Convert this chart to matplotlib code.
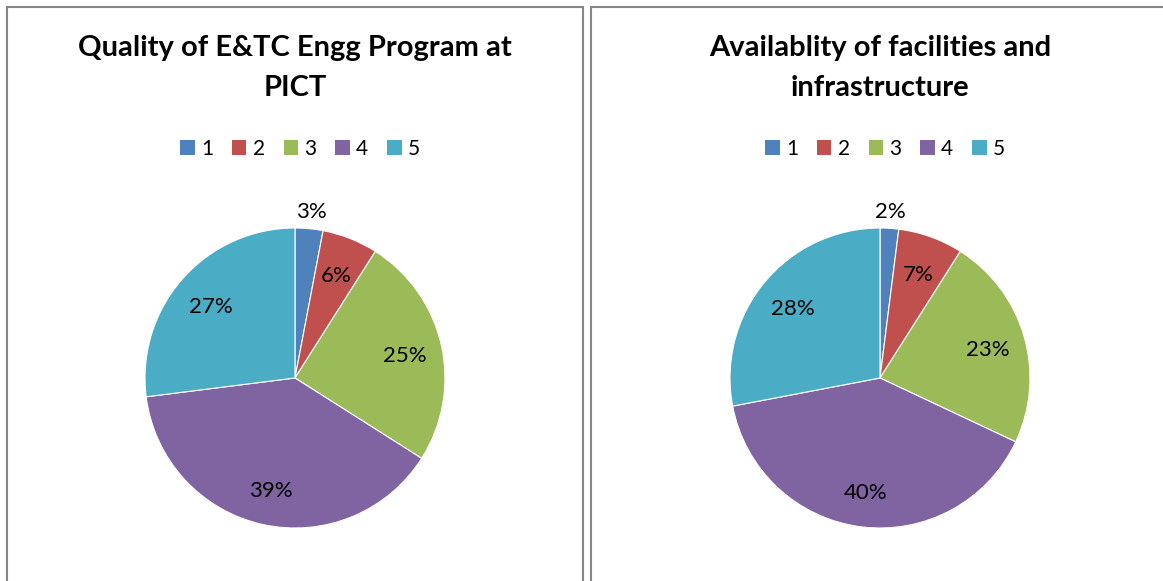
import numpy as np
import matplotlib
matplotlib.use("Agg")
import matplotlib.pyplot as plt
from matplotlib.patches import Rectangle, Patch

# data
categories = ["1", "2", "3", "4", "5"]
quality_pct = [3, 6, 25, 39, 27]
facility_pct = [2, 7, 23, 40, 28]
titles = ["Quality of E&TC Engg Program at\nPICT",
          "Availablity of facilities and\ninfrastructure"]
colors = ["#4F81BD", "#C0504D", "#9BBB59", "#8064A2", "#4BACC6"]

plt.rcParams['font.family'] = ['Lato', 'DejaVu Sans']

W, H = 1163, 581
fig = plt.figure(figsize=(W / 100, H / 100), dpi=100)


def fx(px):
    return px / W


def fy(py):
    return 1 - py / H


def draw_panel(x0, x1, cx, values, title):
    # panel frame (bottom edge runs off the picture)
    fig.patches.append(Rectangle((fx(x0), fy(H + 10)), fx(x1 - x0), fy(7) - fy(H + 10),
                                 transform=fig.transFigure, fill=False,
                                 edgecolor="#868686", linewidth=1.5))
    fig.text(fx(cx), fy(68), title, ha="center", va="center", fontsize=21,
             fontweight="bold", linespacing=1.65)
    handles = [Patch(facecolor=c, label=l) for c, l in zip(colors, categories)]
    fig.legend(handles=handles, loc="center", bbox_to_anchor=(fx(cx + 5), fy(149)),
               ncol=5, frameon=False, fontsize=15, handlelength=0.7, handleheight=0.7,
               handletextpad=0.3, columnspacing=0.9)

    r = 150
    ax = fig.add_axes([fx(cx - r), fy(378 + r), fx(2 * r), fy(378 - r) - fy(378 + r)])
    wedges, _ = ax.pie(values, colors=colors, startangle=90, counterclock=False,
                       radius=1, wedgeprops=dict(edgecolor="white", linewidth=0.8))
    for w, v in zip(wedges, values):
        ang = np.deg2rad((w.theta1 + w.theta2) / 2)
        d = 1.13 if v < 5 else 0.75
        ax.text(d * np.cos(ang), d * np.sin(ang) - 0.02, f"{v}%", ha="center",
                va="center", fontsize=16)
    ax.set_xlim(-1, 1)
    ax.set_ylim(-1, 1)
    ax.set_aspect("equal")
    ax.axis("off")


draw_panel(7, 583, 295, quality_pct, titles[0])
draw_panel(591, 1180, 880, facility_pct, titles[1])

fig.savefig("out.png", dpi=100)
